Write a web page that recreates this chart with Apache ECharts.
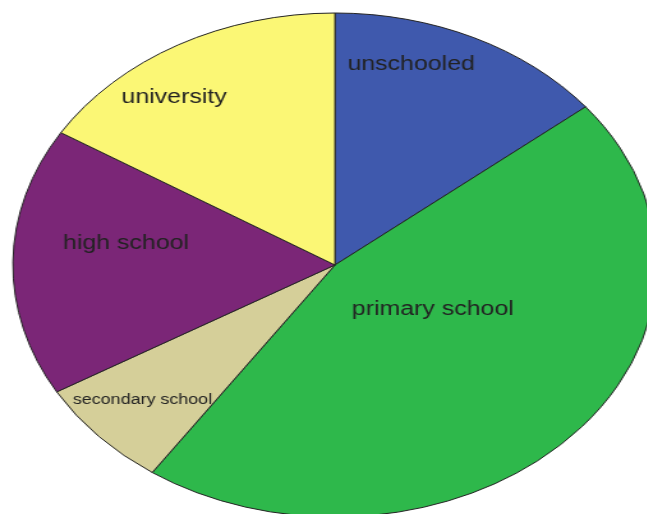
<!DOCTYPE html>
<html>
<head>
<meta charset="utf-8">
<script src="https://cdn.jsdelivr.net/npm/echarts@6/dist/echarts.min.js"></script>
<style>
html,body{margin:0;padding:0;background:#fff;overflow:hidden;width:647px;height:514px;}
#chart{width:520px;height:514px;transform:scaleX(1.2778);transform-origin:0 0;}
</style>
</head>
<body>
<div id="chart"></div>
<script>
const categories = ['unschooled', 'primary school', 'secondary school', 'high school', 'university'];
const values = [14.2, 45.4, 7.0, 17.2, 16.2];
const colors = ['#3f59ad', '#2eb84b', '#d5cf99', '#7b2677', '#fbf775'];
const labelOffsets = [[4, -84], [-18, -43], [-56, 47], [-34.5, -20], [-63, -55]];
const labelSizes = [19.5, 19.5, 14, 19.5, 19.5];

const chart = echarts.init(document.getElementById('chart'));
chart.setOption({
  animation: false,
  series: [{
    type: 'pie',
    center: [262.1, 265],
    radius: 252,
    startAngle: 90,
    clockwise: true,
    avoidLabelOverlap: false,
    itemStyle: { borderColor: '#222', borderWidth: 1 },
    label: {
      show: true,
      position: 'inside',
      color: '#222',
      fontFamily: 'Liberation Sans, Arial, sans-serif',
      formatter: '{b}'
    },
    labelLine: { show: false },
    emphasis: { disabled: true },
    data: categories.map((c, i) => ({
      name: c,
      value: values[i],
      itemStyle: { color: colors[i] },
      label: { offset: labelOffsets[i], fontSize: labelSizes[i] }
    }))
  }]
});
</script>
</body>
</html>
